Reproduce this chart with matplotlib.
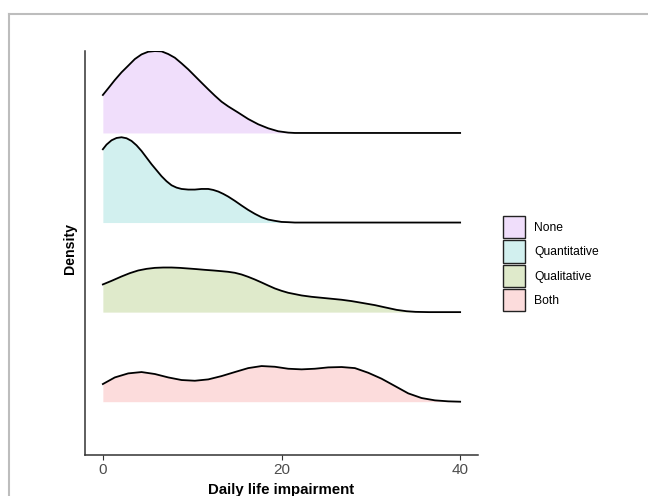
import matplotlib
matplotlib.use("Agg")
import matplotlib.pyplot as plt
from matplotlib.patches import Patch
from matplotlib.lines import Line2D

plt.rcParams['font.family'] = ['Liberation Sans', 'DejaVu Sans']

# groups, top to bottom
groups = ["None", "Quantitative", "Qualitative", "Both"]
fills = ["#F0DEFB", "#D2F0EF", "#DFEACB", "#FCDCDC"]
baselines = [4, 3, 2, 1]

# ridge heights (in units of ridge spacing)
x_none = [0, 0.60, 1.34, 2.09, 2.84, 3.58, 4.33, 5.08, 5.82, 6.57, 7.32, 8.06, 8.81, 9.56, 10.3,
          11.05, 11.8, 12.54, 13.29, 14.03, 15.16, 16.27, 17.39, 18.51, 19.63, 20.75, 21.5, 40]
h_none = [0.424, 0.498, 0.591, 0.677, 0.751, 0.825, 0.877, 0.907, 0.914, 0.911, 0.881, 0.840, 0.777,
          0.710, 0.636, 0.561, 0.487, 0.416, 0.349, 0.297, 0.227, 0.156, 0.097, 0.052, 0.019, 0.004,
          0, 0]

x_quant = [0, 0.41, 0.97, 1.53, 2.09, 2.65, 3.21, 3.77, 4.33, 4.89, 5.45, 6.01, 6.57, 7.13, 7.69,
           8.25, 8.81, 9.56, 10.3, 11.05, 11.8, 12.36, 12.92, 13.48, 14.03, 14.78, 15.53, 16.27,
           17.02, 17.77, 18.51, 19.26, 20.0, 20.75, 21.5, 40]
h_quant = [0.818, 0.870, 0.918, 0.944, 0.952, 0.941, 0.911, 0.862, 0.799, 0.725, 0.651, 0.584,
           0.517, 0.461, 0.416, 0.390, 0.375, 0.368, 0.368, 0.375, 0.375, 0.364, 0.346, 0.320,
           0.290, 0.242, 0.190, 0.141, 0.097, 0.059, 0.033, 0.019, 0.007, 0.004, 0, 0]

x_qual = [0, 0.97, 2.09, 3.02, 3.96, 4.89, 5.82, 6.76, 7.69, 8.62, 9.56, 10.49, 11.42, 12.36, 13.29,
          14.03, 14.78, 15.53, 16.27, 17.02, 17.77, 18.51, 19.26, 20.0, 20.75, 21.5, 22.25, 23.37,
          24.49, 25.61, 26.73, 27.85, 28.96, 30.46, 31.5, 32.9, 34.0, 35.0, 36.5, 40]
h_qual = [0.309, 0.349, 0.398, 0.435, 0.465, 0.483, 0.494, 0.498, 0.498, 0.494, 0.487, 0.480,
          0.472, 0.465, 0.457, 0.450, 0.439, 0.420, 0.394, 0.364, 0.331, 0.297, 0.264, 0.238,
          0.216, 0.201, 0.186, 0.171, 0.160, 0.149, 0.138, 0.123, 0.104, 0.078, 0.055, 0.025,
          0.010, 0.003, 0, 0]

x_both = [0, 1.34, 2.84, 4.33, 5.82, 7.32, 8.81, 10.3, 11.8, 13.29, 14.78, 16.27, 17.77, 19.26,
          20.75, 22.25, 23.74, 25.23, 26.73, 28.22, 29.71, 31.2, 32.7, 34.19, 35.68, 37.18, 38.67,
          40]
h_both = [0.197, 0.271, 0.316, 0.331, 0.309, 0.271, 0.242, 0.234, 0.249, 0.286, 0.331, 0.375,
          0.398, 0.390, 0.368, 0.361, 0.368, 0.383, 0.387, 0.375, 0.323, 0.257, 0.175, 0.093,
          0.041, 0.015, 0.004, 0]

xs = [x_none, x_quant, x_qual, x_both]
hs = [h_none, h_quant, h_qual, h_both]

fig = plt.figure(figsize=(6.48, 4.96), dpi=100)
ax = fig.add_axes([85 / 648, 1 - 455 / 496, (478 - 85) / 648, (455 - 51) / 496])

# draw bottom ridge first so upper ones sit on top
for xv, hv, base, col in reversed(list(zip(xs, hs, baselines, fills))):
    top = [base + h for h in hv]
    ax.fill_between(xv, base, top, color=col, lw=0)
    ax.plot(xv, top, color="black", lw=1.3, solid_joinstyle="round")

ax.set_xlim(-2, 42)
ax.set_ylim(0.405, 4.915)
ax.set_xticks([0, 20, 40])
ax.set_yticks([])
ax.tick_params(axis="x", length=3.5, width=0.8, color="#333333", labelsize=11,
               labelcolor="#4D4D4D", pad=2.5)
for s in ["top", "right"]:
    ax.spines[s].set_visible(False)
for s in ["left", "bottom"]:
    ax.spines[s].set_color("#333333")
    ax.spines[s].set_linewidth(1.1)

ax.set_xlabel("Daily life impairment", fontsize=10.8, fontweight="bold", labelpad=4)
ax.set_ylabel("Density", fontsize=10.2, fontweight="bold")
ax.yaxis.set_label_coords(-0.021, 0.51)

handles = [Patch(facecolor=c, edgecolor="#222222", lw=1.0) for c in fills]
fig.legend(handles, groups, loc="upper left", bbox_to_anchor=(503 / 648, 1 - 216 / 496),
           frameon=False, fontsize=8.7, handlelength=1.82, handleheight=2.43,
           labelspacing=0.2, handletextpad=0.75, borderpad=0, borderaxespad=0)

# light gray frame at top and left
fig.add_artist(Line2D([9 / 648, 1], [1 - 14 / 496, 1 - 14 / 496], color="#BDBDBD", lw=1.5))
fig.add_artist(Line2D([9 / 648, 9 / 648], [0, 1 - 14 / 496], color="#BDBDBD", lw=1.5))

fig.savefig("out.png", dpi=100)
